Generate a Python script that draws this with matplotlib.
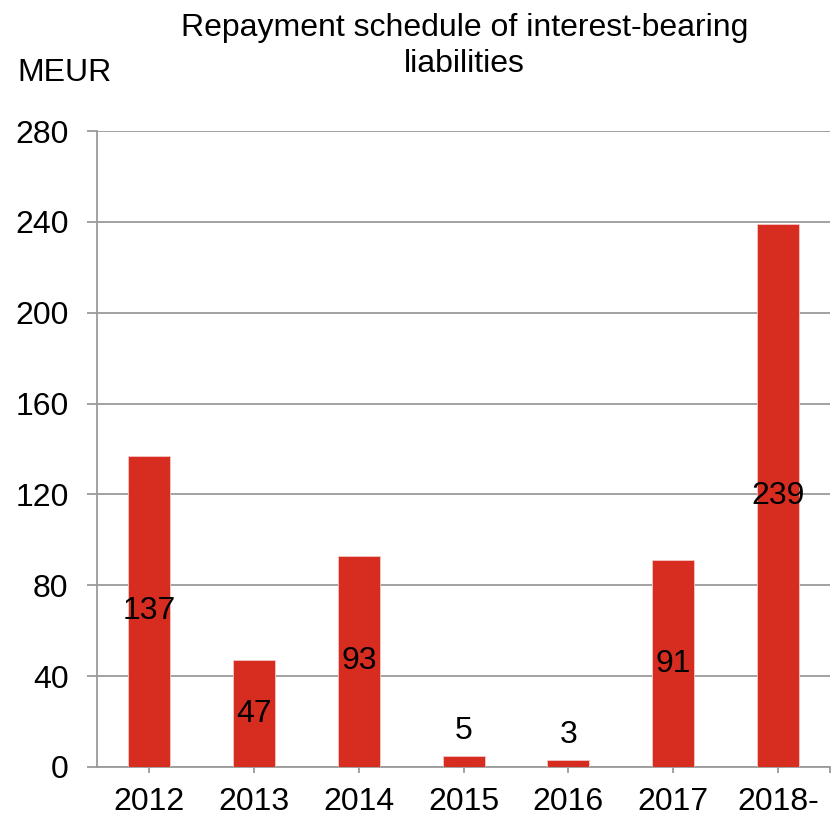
import matplotlib
matplotlib.use('Agg')
import matplotlib.pyplot as plt
import numpy as np

plt.rcParams['font.family'] = ['Liberation Sans', 'DejaVu Sans']

years = ['2012', '2013', '2014', '2015', '2016', '2017', '2018-']
repayments = [137, 47, 93, 5, 3, 91, 239]
yticks = [0, 40, 80, 120, 160, 200, 240, 280]

bar_color = '#D62D20'
grid_color = '#9A9A9A'
fs = 23

fig = plt.figure(figsize=[8.36, 8.21], dpi=100)
ax = fig.add_axes([0.116, 0.0658, 0.877, 0.7746])

x = np.arange(len(years))
bars = ax.bar(x, repayments, width=0.4, color=bar_color, edgecolor='#F2C8C4', linewidth=0.6, zorder=3)

ax.set_xlim(-0.5, len(years) - 0.5)
ax.set_ylim(0, 280)
ax.set_yticks(yticks)
ax.set_yticklabels([str(t) for t in yticks], fontsize=fs)
ax.set_xticks(x)
ax.set_xticklabels(years, fontsize=fs)
ax.set_xticks([len(years) - 0.5], minor=True)

ax.yaxis.grid(True, color=grid_color, linewidth=1.3, zorder=0)
ax.set_axisbelow(True)
for s in ['top', 'right']:
    ax.spines[s].set_visible(False)
for s in ['left', 'bottom']:
    ax.spines[s].set_color(grid_color)
    ax.spines[s].set_linewidth(1.3)

ax.tick_params(axis='y', length=7.5, width=1.3, color=grid_color, pad=13)
ax.tick_params(axis='x', which='both', length=4.5, width=1.3, color=grid_color, pad=10)

for xi, v in zip(x, repayments):
    if v > 20:
        ax.text(xi, v / 2, str(v), ha='center', va='center', fontsize=fs, zorder=4)
    else:
        ax.annotate(str(v), xy=(xi, v), xytext=(0, 18), textcoords='offset points',
                    ha='center', va='center', fontsize=fs)

fig.text(0.5555, 0.984, 'Repayment schedule of interest-bearing\nliabilities', ha='center', va='top',
         fontsize=fs, linespacing=1.25)
fig.text(0.021, 0.911, 'MEUR', ha='left', va='center', fontsize=fs)

fig.savefig('out.png', dpi=100)
